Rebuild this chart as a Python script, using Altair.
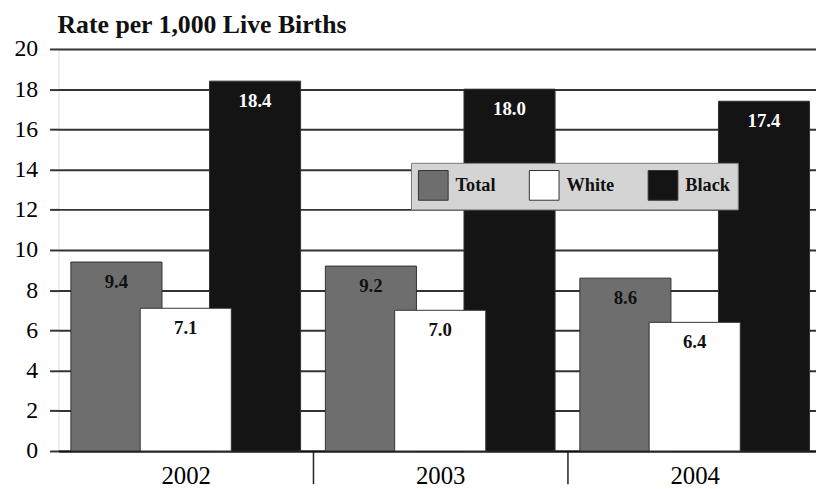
import altair as alt
import pandas as pd

years = ["2002", "2003", "2004"]
groups = ["Total", "White", "Black"]
total = [9.4, 9.2, 8.6]
white = [7.1, 7.0, 6.4]
black = [18.4, 18.0, 17.4]

rows = []
# draw order: Total, Black, then White on top
for g, vals in (("Total", total), ("Black", black), ("White", white)):
    for y, v in zip(years, vals):
        rows.append({"Year": y, "Group": g, "Rate": v, "Label": f"{v:.1f}"})
df = pd.DataFrame(rows)

SERIF = "Liberation Serif"

x_enc = alt.X("Year:N", sort=years,
              scale=alt.Scale(range=[0, 771], paddingInner=0, paddingOuter=0),
              axis=alt.Axis(title=None, labelAngle=0, labelFont=SERIF, labelFontSize=25,
                            labelColor="black", domainColor="#111", domainWidth=2,
                            tickColor="#222", tickWidth=1.5, tickSize=33,
                            tickOffset=128.5, labelOffset=-128.5,
                            labelBaseline="alphabetic", labelPadding=0))
xo_enc = alt.XOffset("Group:N", sort=groups,
                     scale=alt.Scale(domain=groups, paddingInner=0, paddingOuter=0.336))
y_enc = alt.Y("Rate:Q", stack=None,
              scale=alt.Scale(domain=[0, 20], nice=False),
              axis=alt.Axis(title=None, values=list(range(0, 21, 2)), labelFont=SERIF,
                            labelFontSize=24, labelColor="black", domain=False,
                            tickColor="#333", tickWidth=2, tickSize=9, labelPadding=12,
                            gridColor="#333", gridWidth=2))

bars = alt.Chart(df).mark_bar(size=92, stroke="#333", strokeWidth=1).encode(
    x=x_enc, xOffset=xo_enc, y=y_enc,
    color=alt.Color("Group:N", sort=groups,
                    scale=alt.Scale(domain=groups, range=["#6e6e6e", "#ffffff", "#141414"]),
                    legend=alt.Legend(title=None, orient="none", legendX=356, legendY=115,
                                      direction="horizontal", fillColor="#d4d4d4",
                                      strokeColor="#7a7a7a", padding=7,
                                      symbolType="square", symbolSize=900,
                                      symbolStrokeColor="#333", symbolStrokeWidth=1,
                                      symbolOpacity=1, labelFont=SERIF, labelFontWeight="bold",
                                      labelFontSize=18.5, labelColor="#111", labelOffset=7,
                                      columnPadding=31)),
)

labels = alt.Chart(df).mark_text(font=SERIF, fontWeight="bold", fontSize=19,
                                 baseline="middle", dy=20).encode(
    x=x_enc, xOffset=xo_enc, y=y_enc, text="Label:N",
    color=alt.condition(alt.datum.Group == "Black", alt.value("white"), alt.value("#111")),
)

chart = alt.layer(bars, labels).properties(
    width=765, height=406,
    title=alt.TitleParams("Rate per 1,000 Live Births", anchor="start", frame="group",
                          font=SERIF, fontSize=26, fontWeight="bold", color="#111",
                          offset=-1, dx=-1),
    autosize=alt.AutoSizeParams(type="none"),
    padding={"left": 51, "top": 39, "right": 0, "bottom": 36},
).configure_view(stroke=None).configure(background="white")

chart.save("out.html", embed_options={"renderer": "svg", "actions": False})
